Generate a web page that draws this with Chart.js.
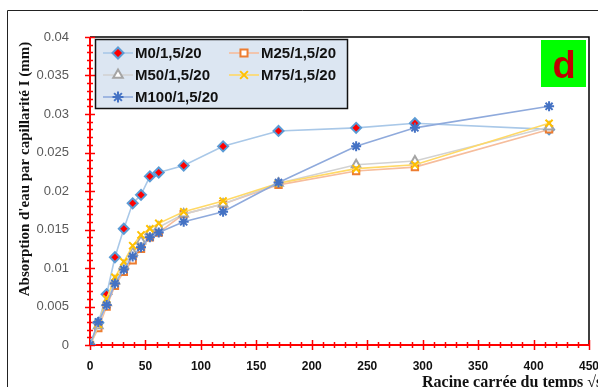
<!DOCTYPE html>
<html lang="fr">
<head>
<meta charset="UTF-8">
<title>Absorption capillaire</title>
<script src="https://cdn.jsdelivr.net/npm/chart.js"></script>
<style>
  body { margin: 0; background: #fff; }
  #wrap { position: relative; width: 598px; height: 387px; }
</style>
</head>
<body>
<div id="wrap">
  <canvas id="chart" width="598" height="387"></canvas>
</div>
<script>
// racine carrée du temps (√s)
const times = [0, 7.5, 15, 22.5, 30.5, 38.5, 46, 54, 62, 84.5, 120, 170, 240, 293, 414];

const m0   = [0, 0.0029, 0.0066, 0.0114, 0.0151, 0.0184, 0.0195, 0.0219, 0.0224, 0.0233, 0.0258, 0.0278, 0.0282, 0.0288, 0.0280];
const m25  = [0, 0.0022, 0.0050, 0.0077, 0.0095, 0.0110, 0.0125, 0.0140, 0.0146, 0.0170, 0.0183, 0.0208, 0.0226, 0.0231, 0.0280];
const m50  = [0, 0.0025, 0.0055, 0.0083, 0.0103, 0.0120, 0.0135, 0.0147, 0.0153, 0.0170, 0.0183, 0.0210, 0.0234, 0.0239, 0.0283];
const m75  = [0, 0.0027, 0.0060, 0.0088, 0.0108, 0.0129, 0.0143, 0.0151, 0.0158, 0.0173, 0.0187, 0.0210, 0.0229, 0.0234, 0.0288];
const m100 = [0, 0.0030, 0.0052, 0.0080, 0.0098, 0.0115, 0.0127, 0.0140, 0.0146, 0.0160, 0.0173, 0.0211, 0.0258, 0.0282, 0.0310];

const seriesNames = ['M0/1,5/20', 'M25/1,5/20', 'M50/1,5/20', 'M75/1,5/20', 'M100/1,5/20'];

const xTicks = [0, 50, 100, 150, 200, 250, 300, 350, 400, 450];
const yTicks = [0, 0.005, 0.01, 0.015, 0.02, 0.025, 0.03, 0.035, 0.04];

const yTitle = "Absorption d'eau par capillarité I (mm)";
const xTitle = 'Racine carrée du temps √s';
const panelLetter = 'd';

// styles per series
const styles = [
  { line: '#a9c8e8', point: 'rectRot',  r: 5,   fill: '#ff0000', border: '#5b9bd5', bw: 2 },
  { line: '#f6bd9c', point: 'rect',     r: 4.5, fill: '#ffffff', border: '#ed7d31', bw: 2 },
  { line: '#d2d2d2', point: 'triangle', r: 5,   fill: '#ffffff', border: '#a5a5a5', bw: 2 },
  { line: '#ffd966', point: 'crossRot', r: 5,   fill: '#ffc000', border: '#ffc000', bw: 2 },
  { line: '#8faadc', point: 'star',     r: 5,   fill: '#4472c4', border: '#4472c4', bw: 2 }
];

const allSeries = [m0, m25, m50, m75, m100];

const datasets = allSeries.map((vals, i) => ({
  label: seriesNames[i],
  data: times.map((t, k) => ({ x: t, y: vals[k] })),
  borderColor: styles[i].line,
  borderWidth: 1.6,
  pointStyle: styles[i].point,
  pointRadius: styles[i].r,
  pointBackgroundColor: styles[i].fill,
  pointBorderColor: styles[i].border,
  pointBorderWidth: styles[i].bw,
  tension: 0,
  order: 4 - i
}));

const RED = '#ff0000';

const decorPlugin = {
  id: 'decor',
  beforeDraw(chart) {
    const ctx = chart.ctx;
    ctx.save();
    ctx.fillStyle = '#fff';
    ctx.fillRect(0, 0, chart.width, chart.height);
    // outer chart frame
    ctx.strokeStyle = '#222';
    ctx.lineWidth = 1;
    ctx.beginPath();
    ctx.moveTo(7.5, chart.height);
    ctx.lineTo(7.5, 10.5);
    ctx.lineTo(chart.width, 10.5);
    ctx.stroke();
    ctx.restore();
  },
  beforeDatasetsDraw(chart) {
    const ctx = chart.ctx;
    const a = chart.chartArea;
    const xs = chart.scales.x, ys = chart.scales.y;
    ctx.save();
    // plot frame top / right
    ctx.strokeStyle = '#000';
    ctx.lineWidth = 1.5;
    ctx.beginPath();
    ctx.moveTo(a.left, a.top);
    ctx.lineTo(a.right, a.top);
    ctx.lineTo(a.right, a.bottom);
    ctx.stroke();
    // tick marks, crossing the axes
    ctx.strokeStyle = RED;
    ctx.lineWidth = 1.5;
    ctx.beginPath();
    for (let v = 0; v <= 450.01; v += 10) {
      const px = Math.round(xs.getPixelForValue(v)) + 0.5;
      const major = Math.abs(v % 50) < 0.01;
      const len = major ? 5 : 3;
      ctx.moveTo(px, a.bottom - len);
      ctx.lineTo(px, a.bottom + len);
    }
    for (let k = 0; k <= 40; k++) {
      const py = Math.round(ys.getPixelForValue(k * 0.001)) + 0.5;
      const len = k % 5 === 0 ? 5 : 3;
      ctx.moveTo(a.left - len, py);
      ctx.lineTo(a.left + len, py);
    }
    ctx.stroke();
    // axes
    ctx.lineWidth = 2;
    ctx.beginPath();
    ctx.moveTo(a.left, a.top);
    ctx.lineTo(a.left, a.bottom);
    ctx.lineTo(a.right, a.bottom);
    ctx.stroke();
    ctx.restore();
  },
  afterDraw(chart) {
    const ctx = chart.ctx;
    ctx.save();
    // axis titles
    ctx.fillStyle = '#111';
    ctx.font = 'bold 15px "Liberation Serif", "Times New Roman", serif';
    ctx.textAlign = 'center';
    ctx.textBaseline = 'middle';
    ctx.save();
    ctx.translate(25, 169);
    ctx.rotate(-Math.PI / 2);
    ctx.fillText(yTitle, 0, 0);
    ctx.restore();
    ctx.font = 'bold 16px "Liberation Serif", "Times New Roman", serif';
    ctx.textAlign = 'left';
    ctx.textBaseline = 'alphabetic';
    ctx.fillText(xTitle, 422, 387);

    // legend box
    const lx = 95.5, ly = 39.5, lw = 252, lh = 69;
    ctx.fillStyle = '#dce6f2';
    ctx.fillRect(lx, ly, lw, lh);
    ctx.strokeStyle = '#111';
    ctx.lineWidth = 1.5;
    ctx.strokeRect(lx, ly, lw, lh);
    const slots = [[103, 53], [229, 53], [103, 75], [229, 75], [103, 97]];
    ctx.font = 'bold 15px "Liberation Sans", Arial, sans-serif';
    ctx.textBaseline = 'middle';
    ctx.textAlign = 'left';
    slots.forEach(([sx, sy], i) => {
      const s = styles[i];
      ctx.strokeStyle = s.line;
      ctx.lineWidth = 1.6;
      ctx.beginPath();
      ctx.moveTo(sx, sy);
      ctx.lineTo(sx + 30, sy);
      ctx.stroke();
      ctx.fillStyle = s.fill;
      ctx.strokeStyle = s.border;
      ctx.lineWidth = s.bw;
      Chart.helpers.drawPoint(ctx, { pointStyle: s.point, radius: s.r + 0.5, borderWidth: s.bw, rotation: 0 }, sx + 15, sy);
      ctx.fillStyle = '#111';
      ctx.fillText(seriesNames[i], sx + 32, sy + 1);
    });

    // panel letter
    ctx.fillStyle = '#00ff00';
    ctx.fillRect(541, 40, 45, 47);
    ctx.fillStyle = '#c00000';
    ctx.font = 'bold 38px "Liberation Sans", Arial, sans-serif';
    ctx.textAlign = 'center';
    ctx.textBaseline = 'alphabetic';
    ctx.fillText(panelLetter, 564, 78);
    ctx.restore();
  }
};

new Chart(document.getElementById('chart'), {
  type: 'line',
  data: { datasets: datasets },
  options: {
    responsive: false,
    animation: false,
    layout: { padding: { left: 0, top: 37, right: 9, bottom: 0 } },
    plugins: {
      legend: { display: false },
      tooltip: { enabled: false }
    },
    scales: {
      x: {
        type: 'linear',
        min: 0,
        max: 450,
        afterBuildTicks: s => { s.ticks = xTicks.map(v => ({ value: v })); },
        afterFit: s => { s.height = 42; s.paddingRight = 0; s.paddingLeft = 0; },
        grid: { display: false },
        border: { display: false },
        ticks: {
          padding: 6,
          color: '#111',
          font: { family: '"Liberation Sans", Arial, sans-serif', size: 12, weight: 'bold' },
          maxRotation: 0,
          autoSkip: false
        }
      },
      y: {
        type: 'linear',
        min: 0,
        max: 0.04,
        afterBuildTicks: s => { s.ticks = yTicks.map(v => ({ value: v })); },
        afterFit: s => { s.width = 90; s.paddingTop = 0; s.paddingBottom = 0; },
        grid: { display: false },
        border: { display: false },
        ticks: {
          padding: 13,
          color: '#595959',
          font: { family: '"Liberation Sans", Arial, sans-serif', size: 13 },
          callback: v => String(+v.toFixed(3))
        }
      }
    }
  },
  plugins: [decorPlugin]
});
</script>
</body>
</html>
